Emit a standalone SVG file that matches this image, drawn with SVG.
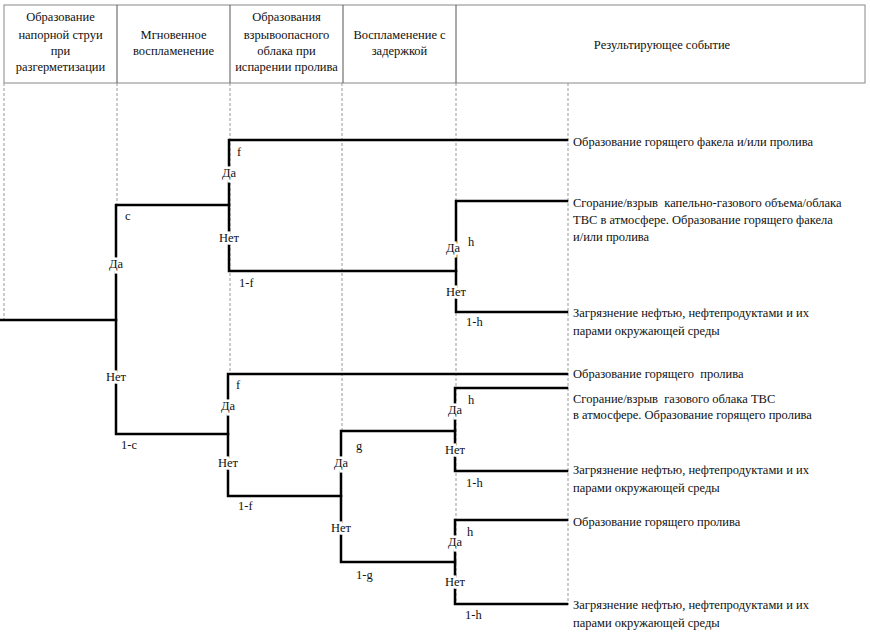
<svg xmlns="http://www.w3.org/2000/svg" width="870" height="641" viewBox="0 0 870 641" font-family="'Liberation Serif','DejaVu Serif',serif">
<style>
text{font-family:'Liberation Serif','DejaVu Serif',serif;font-size:12.5px;fill:#111}
.h{text-anchor:middle}
.lbl{text-anchor:middle;dominant-baseline:central;paint-order:stroke;stroke:#fff;stroke-width:5px}
.p{dominant-baseline:central}
.br{fill:none;stroke:#000;stroke-width:2.5;stroke-linecap:square}
.dash{stroke:#999;stroke-width:1;stroke-dasharray:3 2;fill:none}
.box{fill:none;stroke:#888;stroke-width:1}
.div{stroke:#555;stroke-width:1}
.res{white-space:pre}
</style>
<rect width="870" height="641" fill="#fff"/>
<g id="header">
<rect class="box" x="4" y="5" width="861" height="78"/>
<line class="div" x1="117" y1="5" x2="117" y2="83"/>
<line class="div" x1="230" y1="5" x2="230" y2="83"/>
<line class="div" x1="343" y1="5" x2="343" y2="83"/>
<line class="div" x1="456" y1="5" x2="456" y2="83"/>
<g id="col1"><text class="h" x="60.5" y="21">Образование</text><text class="h" x="60.5" y="39">напорной струи</text><text class="h" x="60.5" y="55">при</text><text class="h" x="60.5" y="71">разгерметизации</text></g>
<g id="col2"><text class="h" x="173.5" y="39">Мгновенное</text><text class="h" x="173.5" y="55">воспламенение</text></g>
<g id="col3"><text class="h" x="286.5" y="21">Образования</text><text class="h" x="286.5" y="39">взрывоопасного</text><text class="h" x="286.5" y="55">облака при</text><text class="h" x="286.5" y="71">испарении пролива</text></g>
<g id="col4"><text class="h" x="399.5" y="39">Воспламенение с</text><text class="h" x="399.5" y="55">задержкой</text></g>
<g id="col5"><text class="h" x="662" y="49">Результирующее событие</text></g>
</g>
<g id="gridlines">
<line class="dash" x1="4" y1="83" x2="4" y2="320"/>
<line class="dash" x1="117" y1="83" x2="117" y2="205"/>
<line class="dash" x1="230" y1="83" x2="230" y2="374"/>
<line class="dash" x1="342" y1="83" x2="342" y2="431"/>
<line class="dash" x1="456" y1="83" x2="456" y2="604"/>
<line class="dash" x1="568" y1="83" x2="568" y2="605"/>
</g>
<g id="connectors">
<path class="br" d="M0 320H116"/>
<path class="br" d="M229 205H116V434H228"/>
<path class="br" d="M567 140H229V271H456"/>
<path class="br" d="M567 201H456V312H567"/>
<path class="br" d="M567 374H228V496H341"/>
<path class="br" d="M455 431H341V562H455"/>
<path class="br" d="M567 388H455V471H567"/>
<path class="br" d="M567 520H455V604H567"/>
</g>
<g id="branch-labels">
<text class="lbl" x="116" y="264">Да</text><text class="lbl" x="116" y="377">Нет</text>
<text class="p" x="125" y="216">c</text><text class="p" x="121" y="445">1-c</text>
<text class="lbl" x="229" y="173">Да</text><text class="lbl" x="229" y="238">Нет</text>
<text class="p" x="237" y="152">f</text><text class="p" x="239" y="283">1-f</text>
<text class="lbl" x="453" y="248">Да</text><text class="lbl" x="456" y="292">Нет</text>
<text class="p" x="468" y="242">h</text><text class="p" x="466" y="322">1-h</text>
<text class="lbl" x="228" y="406">Да</text><text class="lbl" x="228" y="463">Нет</text>
<text class="p" x="236" y="385">f</text><text class="p" x="238" y="506">1-f</text>
<text class="lbl" x="341" y="463">Да</text><text class="lbl" x="341" y="528">Нет</text>
<text class="p" x="356" y="446">g</text><text class="p" x="356" y="575">1-g</text>
<text class="lbl" x="455" y="410">Да</text><text class="lbl" x="455" y="450">Нет</text>
<text class="p" x="468" y="400">h</text><text class="p" x="466" y="483">1-h</text>
<text class="lbl" x="455" y="542">Да</text><text class="lbl" x="455" y="582">Нет</text>
<text class="p" x="467" y="532">h</text><text class="p" x="465" y="615">1-h</text>
</g>
<g id="outcome1"><text class="res" x="573" y="146">Образование горящего факела и/или пролива</text></g>
<g id="outcome2"><text class="res" x="573" y="207">Сгорание/взрыв  капельно-газового объема/облака</text><text class="res" x="573" y="224">ТВС в атмосфере. Образование горящего факела</text><text class="res" x="573" y="241">и/или пролива</text></g>
<g id="outcome3"><text class="res" x="573" y="317">Загрязнение нефтью, нефтепродуктами и их</text><text class="res" x="573" y="335">парами окружающей среды</text></g>
<g id="outcome4"><text class="res" x="573" y="378">Образование горящего  пролива</text></g>
<g id="outcome5"><text class="res" x="573" y="403">Сгорание/взрыв  газового облака ТВС</text><text class="res" x="573" y="419">в атмосфере. Образование горящего пролива</text></g>
<g id="outcome6"><text class="res" x="573" y="474">Загрязнение нефтью, нефтепродуктами и их</text><text class="res" x="573" y="492">парами окружающей среды</text></g>
<g id="outcome7"><text class="res" x="573" y="526">Образование горящего пролива</text></g>
<g id="outcome8"><text class="res" x="573" y="609">Загрязнение нефтью, нефтепродуктами и их</text><text class="res" x="573" y="627">парами окружающей среды</text></g>
</svg>
